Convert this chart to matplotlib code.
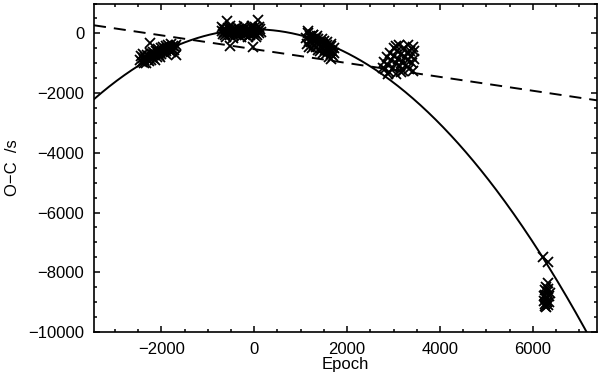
import numpy as np
import matplotlib
matplotlib.use("Agg")
import matplotlib.pyplot as plt
from matplotlib.ticker import MultipleLocator

# ---- data ----
c1_epoch = [-2460, -2440, -2420, -2400, -2390, -2370, -2350, -2340, -2320, -2300,
            -2290, -2270, -2250, -2240, -2230, -2210, -2200, -2180, -2170, -2150,
            -2130, -2120, -2100, -2080, -2070, -2050, -2030, -2010, -2000, -1980,
            -1960, -1950, -1930, -1910, -1890, -1870, -1850, -1830, -1810, -1790,
            -1770, -1750, -1730, -1710, -1690, -1680, -2380, -2260, -2140, -2020,
            -1900, -1800]
c1_oc = [-880, -760, -950, -830, -700, -900, -780, -980, -840, -720,
         -880, -760, -660, -330, -900, -800, -700, -620, -840, -740,
         -680, -580, -780, -640, -540, -720, -610, -500, -680, -580,
         -470, -640, -530, -420, -600, -490, -380, -560, -460, -350,
         -520, -430, -560, -470, -380, -720, -1000, -940, -880, -800,
         -700, -640]

c2_epoch = [-700, -680, -660, -640, -620, -600, -590, -580, -560, -540,
            -525, -520, -500, -480, -460, -440, -420, -400, -380, -360,
            -340, -320, -300, -280, -260, -240, -220, -200, -180, -160,
            -140, -120, -100, -80, -60, -40, -25, -20, 0, 20,
            40, 60, 80, 80, 100, 120, 140, -690, -610, -530, -450,
            -370, -290, -210, -130, -50, 30, 110, -650, -470, -310, -150, 10]
c2_oc = [80, -20, 150, 40, -60, 120, 420, 0, 180, 60,
         -430, -40, 130, 20, -60, 160, 70, -20, 110, 30,
         -50, 140, 60, -30, 100, 20, 150, -40, 80, 0,
         130, 50, -50, 110, 30, 170, -440, -30, 90, 10,
         150, -40, 460, 70, 0, 140, 40, 220, -120, 230, -140,
         210, -130, 230, -120, 240, -130, 220, 30, 90, 120, 60, 200]

c3_epoch = [1120, 1130, 1150, 1170, 1180, 1200, 1220, 1240, 1250, 1270,
            1290, 1300, 1320, 1340, 1350, 1370, 1380, 1400, 1420, 1430,
            1450, 1470, 1480, 1500, 1510, 1530, 1550, 1560, 1580, 1600,
            1610, 1630, 1650, 1660, 1680, 1700, 1710, 1720, 1650, 1160,
            1260, 1360, 1460, 1560, 1660]
c3_oc = [-150, -350, 0, -250, -450, -100, -300, -200, -500, -50,
         -380, -250, -150, -450, -320, -550, -200, -400, -600, -300,
         -480, -350, -650, -420, -250, -550, -700, -400, -600, -480,
         -780, -550, -680, -420, -600, -750, -500, -650, -850, 80,
         -60, -100, -180, -280, -350]

c4_epoch = [2800, 2820, 2850, 2880, 2900, 2920, 2950, 2980, 3000, 3020,
            3050, 3060, 3080, 3100, 3120, 3130, 3150, 3180, 3200, 3220,
            3240, 3260, 3280, 3300, 3320, 3340, 3360, 3380, 3400, 3420,
            3440, 3450, 2870, 3170, 3050, 2780, 3410]
c4_oc = [-950, -1200, -800, -1050, -1300, -650, -900, -1150, -500, -750,
         -1000, -1350, -600, -850, -400, -1100, -700, -950, -1250, -500,
         -800, -1050, -650, -400, -900, -1200, -600, -750, -1000, -450,
         -850, -600, -1350, -1300, -420, -1150, -1250]

c5_epoch = [6210, 6330, 6280, 6300, 6260, 6340, 6290, 6240, 6350, 6270,
            6320, 6290, 6250, 6360, 6280, 6310, 6270, 6330, 6230, 6320]
c5_oc = [-7490, -7660, -8500, -8650, -8750, -8800, -8900, -8950, -9000, -9050,
         -9100, -9150, -8600, -8700, -8850, -9000, -9120, -8550, -8800, -8350]

# quadratic ephemeris fit (a*E^2 + b*E + c) and linear fit (m*E + k)
quad_coeffs = [-1.975e-4, -0.003, 136.0]
lin_coeffs = [-0.232, -530.0]

xlim = (-3450, 7380)
ylim = (-10000, 1000)

epoch_all = c1_epoch + c2_epoch + c3_epoch + c4_epoch + c5_epoch
oc_all = c1_oc + c2_oc + c3_oc + c4_oc + c5_oc

plt.rcParams['font.family'] = ['Liberation Sans', 'DejaVu Sans']
fig = plt.figure(figsize=(6.0, 3.77), dpi=100)
ax = fig.add_axes([94 / 600, 45 / 377, 503 / 600, 328.5 / 377])

ax.plot(epoch_all, oc_all, linestyle='none', marker='x', color='black',
        markersize=7.5, markeredgewidth=1.3)

ex = np.linspace(xlim[0], xlim[1], 400)
ax.plot(ex, np.polyval(quad_coeffs, ex), color='black', lw=1.4)
ax.plot(ex, np.polyval(lin_coeffs, ex), color='black', lw=1.4,
        dashes=(6.2, 4.1))

ax.set_xlim(*xlim)
ax.set_ylim(*ylim)
ax.xaxis.set_major_locator(MultipleLocator(2000))
ax.xaxis.set_minor_locator(MultipleLocator(500))
ax.yaxis.set_major_locator(MultipleLocator(2000))
ax.yaxis.set_minor_locator(MultipleLocator(500))
ax.tick_params(which='both', direction='in', top=True, right=True,
               width=1.1, labelsize=12, colors='black')
ax.tick_params(which='major', length=4.5, pad=7)
ax.tick_params(which='minor', length=2)
for s in ax.spines.values():
    s.set_linewidth(1.2)

ax.set_xlabel('Epoch', fontsize=12, labelpad=0)
ax.set_ylabel('O\u2212C  /s', fontsize=12, labelpad=6)

fig.savefig('out.png', dpi=100)
